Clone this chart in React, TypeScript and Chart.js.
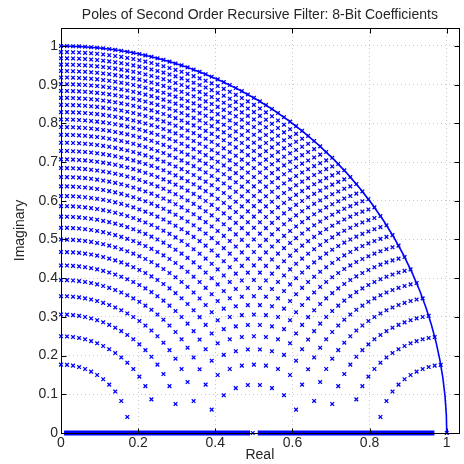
import { useEffect, useRef } from "react";
import { Chart, registerables } from "chart.js";

Chart.register(...registerables);

// Quantized real parts of the complex pole pairs (column positions)
const realPartLevels = [
  0, 0.015625, 0.03125, 0.046875, 0.0625, 0.078125, 0.09375, 0.109375, 0.125, 0.140625,
  0.15625, 0.171875, 0.1875, 0.203125, 0.21875, 0.234375, 0.25, 0.265625, 0.28125, 0.296875,
  0.3125, 0.328125, 0.34375, 0.359375, 0.375, 0.390625, 0.40625, 0.421875, 0.4375, 0.453125,
  0.46875, 0.484375, 0.5, 0.515625, 0.53125, 0.546875, 0.5625, 0.578125, 0.59375, 0.609375,
  0.625, 0.640625, 0.65625, 0.671875, 0.6875, 0.703125, 0.71875, 0.734375, 0.75, 0.765625,
  0.78125, 0.796875, 0.8125, 0.828125, 0.84375, 0.859375, 0.875, 0.890625, 0.90625, 0.921875,
  0.9375, 0.953125, 0.96875, 0.984375, 1,
];

// Quantized pole radii (the arcs seen in the plot)
const poleRadii = [
  0.17678, 0.25, 0.30619, 0.35355, 0.39528, 0.43301, 0.46771, 0.5, 0.53033, 0.55902,
  0.5863, 0.61237, 0.63738, 0.66144, 0.68465, 0.70711, 0.72887, 0.75, 0.77055, 0.79057,
  0.81009, 0.82916, 0.84779, 0.86603, 0.88388, 0.90139, 0.91856, 0.93541, 0.95197, 0.96825,
  0.98425, 1,
];

// Real-axis poles: dense bands and isolated poles
const realAxisBandStarts = [0.008, 0.51];
const realAxisBandEnds = [0.49, 0.968];
const realAxisSinglePoles = [0.497, 1.0];

const unitCircleRadius = 1;

const xTickValues = [0, 0.2, 0.4, 0.6, 0.8, 1];
const yTickValues = [0, 0.1, 0.2, 0.3, 0.4, 0.5, 0.6, 0.7, 0.8, 0.9, 1];
const xAxisMax = 1.031;
const yAxisMax = 1.0465;

const titleText = "Poles of Second Order Recursive Filter: 8-Bit Coefficients";
const xAxisTitle = "Real";
const yAxisTitle = "Imaginary";

const BLUE = "#0000ff";
const TEXT = "#262626";
const FONT = "'Liberation Sans', Arial, Helvetica, sans-serif";

export default function App() {
  const canvasRef = useRef<HTMLCanvasElement | null>(null);

  useEffect(() => {
    document.body.style.margin = "0";
    const canvas = canvasRef.current;
    if (!canvas) return;

    const complexPoles: { x: number; y: number }[] = [];
    for (const r of poleRadii) {
      for (const x of realPartLevels) {
        if (x < r - 1e-6) complexPoles.push({ x, y: Math.sqrt(r * r - x * x) });
      }
    }

    const bandDatasets = realAxisBandStarts.map((s, i) => ({
      type: "scatter" as const,
      data: [
        { x: s, y: 0 },
        { x: realAxisBandEnds[i], y: 0 },
      ],
      showLine: true,
      borderColor: BLUE,
      borderWidth: 5,
      pointRadius: 0,
      clip: false as const,
    }));

    const unitCirclePlugin = {
      id: "unitCircle",
      beforeDatasetsDraw(chart: any) {
        const xs = chart.scales.x;
        const ys = chart.scales.y;
        const cx = xs.getPixelForValue(0);
        const cy = ys.getPixelForValue(0);
        const rx = xs.getPixelForValue(unitCircleRadius) - cx;
        const ry = cy - ys.getPixelForValue(unitCircleRadius);
        const ctx = chart.ctx;
        ctx.save();
        ctx.beginPath();
        ctx.ellipse(cx, cy, rx, ry, 0, -Math.PI / 2, 0);
        ctx.strokeStyle = BLUE;
        ctx.lineWidth = 1.6;
        ctx.stroke();
        ctx.restore();
      },
    };

    const boxPlugin = {
      id: "matlabBox",
      afterDraw(chart: any) {
        const { left, right, top, bottom } = chart.chartArea;
        const xs = chart.scales.x;
        const ys = chart.scales.y;
        const ctx = chart.ctx;
        ctx.save();
        ctx.strokeStyle = "#000";
        ctx.lineWidth = 1;
        const L = Math.round(left) + 0.5;
        const R = Math.round(right) + 0.5;
        const T = Math.round(top) + 0.5;
        const B = Math.round(bottom) + 0.5;
        ctx.strokeRect(L, T, R - L, B - T);
        ctx.beginPath();
        const tl = 5;
        for (const v of xTickValues) {
          const px = Math.round(xs.getPixelForValue(v)) + 0.5;
          ctx.moveTo(px, B);
          ctx.lineTo(px, B - tl);
          ctx.moveTo(px, T);
          ctx.lineTo(px, T + tl);
        }
        for (const v of yTickValues) {
          const py = Math.round(ys.getPixelForValue(v)) + 0.5;
          ctx.moveTo(L, py);
          ctx.lineTo(L + tl, py);
          ctx.moveTo(R, py);
          ctx.lineTo(R - tl, py);
        }
        ctx.stroke();
        ctx.restore();
      },
    };

    const chart = new Chart(canvas, {
      type: "scatter",
      data: {
        datasets: [
          ...bandDatasets,
          {
            data: realAxisSinglePoles.map((x) => ({ x, y: 0 })),
            pointStyle: "crossRot",
            pointRadius: 2.6,
            borderWidth: 1.3,
            borderColor: BLUE,
            backgroundColor: BLUE,
            clip: false,
          },
          {
            data: complexPoles,
            pointStyle: "crossRot",
            pointRadius: 2.6,
            borderWidth: 1.3,
            borderColor: BLUE,
            backgroundColor: BLUE,
            clip: false,
          },
        ] as any,
      },
      options: {
        animation: false,
        responsive: false,
        events: [],
        layout: { padding: { left: 0, right: 4, top: 0, bottom: 0 } },
        plugins: {
          legend: { display: false },
          tooltip: { enabled: false },
          title: {
            display: true,
            text: titleText,
            color: TEXT,
            fullSize: false,
            font: { family: FONT, size: 14, weight: "normal" },
            padding: { top: 6.6, bottom: 4.6 },
          },
        },
        scales: {
          x: {
            type: "linear",
            min: 0,
            max: xAxisMax,
            afterBuildTicks: (scale: any) => {
              scale.ticks = xTickValues.map((v) => ({ value: v }));
            },
            afterFit: (scale: any) => {
              scale.height = 31;
            },
            ticks: {
              color: TEXT,
              padding: 2,
              maxRotation: 0,
              autoSkip: false,
              font: { family: FONT, size: 14 },
              callback: (v: any) => String(v),
            },
            grid: { color: "#c8c8c8", drawTicks: false, lineWidth: 1 },
            border: { display: false, dash: [1, 3] },
            title: {
              display: true,
              text: xAxisTitle,
              color: TEXT,
              font: { family: FONT, size: 14 },
              padding: { top: 0, bottom: 0 },
            },
          },
          y: {
            type: "linear",
            min: 0,
            max: yAxisMax,
            afterBuildTicks: (scale: any) => {
              scale.ticks = yTickValues.map((v) => ({ value: v }));
            },
            afterFit: (scale: any) => {
              scale.width = 61;
            },
            ticks: {
              color: TEXT,
              padding: 3,
              autoSkip: false,
              font: { family: FONT, size: 14 },
              callback: (v: any) => String(v),
            },
            grid: { color: "#c8c8c8", drawTicks: false, lineWidth: 1 },
            border: { display: false, dash: [1, 3] },
            title: {
              display: true,
              text: yAxisTitle,
              color: TEXT,
              font: { family: FONT, size: 14 },
              padding: { top: 12, bottom: 0 },
            },
          },
        },
      },
      plugins: [unitCirclePlugin, boxPlugin],
    } as any);

    return () => chart.destroy();
  }, []);

  return (
    <div style={{ position: "absolute", left: 0, top: 0, width: 464, height: 464 }}>
      <canvas ref={canvasRef} width={464} height={464} style={{ display: "block" }} />
    </div>
  );
}
